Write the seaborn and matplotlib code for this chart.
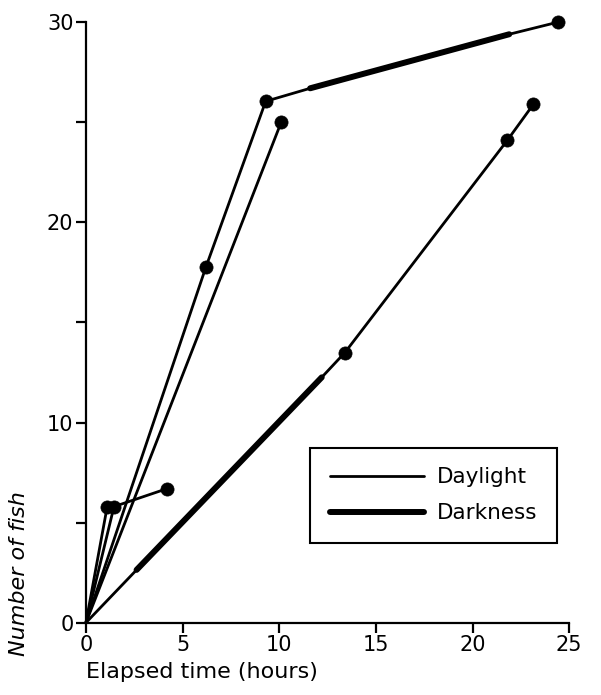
import seaborn as sns
import matplotlib.pyplot as plt
import pandas as pd
from matplotlib.lines import Line2D

# data: hours / number of fish, phase of each segment
s1_hours = [0, 6.2, 9.3, 11.6, 21.9, 24.4]
s1_fish = [0, 17.75, 26.05, 26.7, 29.4, 30.0]
s1_phase = ['Daylight', 'Daylight', 'Daylight', 'Darkness', 'Daylight']
s1_obs = [False, True, True, False, False, True]

s2_hours = [0, 10.1]
s2_fish = [0, 25.0]
s2_phase = ['Daylight']
s2_obs = [False, True]

s3_hours = [0, 2.62, 12.2, 13.4, 21.8, 23.15]
s3_fish = [0, 2.64, 12.26, 13.5, 24.1, 25.9]
s3_phase = ['Daylight', 'Darkness', 'Daylight', 'Daylight', 'Daylight']
s3_obs = [False, False, False, True, True, True]

s4_hours = [0, 1.1]
s4_fish = [0, 5.8]
s4_phase = ['Daylight']
s4_obs = [False, True]

s5_hours = [0, 1.45, 4.2]
s5_fish = [0, 5.8, 6.7]
s5_phase = ['Daylight', 'Daylight']
s5_obs = [False, True, True]

series = [
    (s1_hours, s1_fish, s1_phase, s1_obs),
    (s2_hours, s2_fish, s2_phase, s2_obs),
    (s3_hours, s3_fish, s3_phase, s3_obs),
    (s4_hours, s4_fish, s4_phase, s4_obs),
    (s5_hours, s5_fish, s5_phase, s5_obs),
]

x_ticks = [0, 5, 10, 15, 20, 25]
y_ticks = [0, 5, 10, 15, 20, 25, 30]
y_ticklabels = ['0', '', '10', '', '20', '', '30']

# long tables: one two-row piece per segment, plus the observed points
seg_rows = []
pt_rows = []
seg_id = 0
for hours, fish, phase, obs in series:
    for i in range(len(phase)):
        for j in (i, i + 1):
            seg_rows.append({'segment': seg_id, 'phase': phase[i], 'hours': hours[j], 'fish': fish[j]})
        seg_id += 1
    for h, f, o in zip(hours, fish, obs):
        if o:
            pt_rows.append({'hours': h, 'fish': f})
seg_df = pd.DataFrame(seg_rows)
pt_df = pd.DataFrame(pt_rows)

sns.set_style('ticks', {'axes.edgecolor': 'black', 'text.color': 'black',
                        'xtick.color': 'black', 'ytick.color': 'black',
                        'axes.labelcolor': 'black'})
plt.rcParams['font.family'] = ['DejaVu Sans']

fig = plt.figure(figsize=(6.01, 6.95), dpi=100)
ax = fig.add_axes([0.143, 0.104, 0.804, 0.864])

sns.lineplot(data=seg_df, x='hours', y='fish', units='segment', size='phase',
             sizes={'Daylight': 2.0, 'Darkness': 4.3}, color='black',
             estimator=None, sort=False, legend=False, ax=ax,
             solid_capstyle='round', clip_on=False)
sns.scatterplot(data=pt_df, x='hours', y='fish', color='black', s=90,
                edgecolor='black', linewidth=0.5, zorder=3, clip_on=False, ax=ax)

ax.set_xlim(0, 25)
ax.set_ylim(0, 30)
ax.set_xticks(x_ticks)
ax.set_xticklabels([str(t) for t in x_ticks])
ax.set_yticks(y_ticks)
ax.set_yticklabels(y_ticklabels)
sns.despine(ax=ax)
for sp in ('left', 'bottom'):
    ax.spines[sp].set_linewidth(1.6)
ax.tick_params(axis='both', direction='out', length=7, width=1.6, labelsize=15,
               pad=2, colors='black')

ax.set_xlabel('Elapsed time (hours)', fontsize=16, loc='left')
ax.xaxis.set_label_coords(0.0, -0.065)
ax.set_ylabel('Number of fish', fontsize=16, style='italic', loc='bottom')
ax.yaxis.set_label_coords(-0.118, -0.055)

handles = [Line2D([], [], color='black', lw=2.0),
           Line2D([], [], color='black', lw=4.3)]
leg = ax.legend(handles, ['Daylight', 'Darkness'], loc='lower left',
                bbox_to_anchor=(0.464, 0.133), borderaxespad=0, fontsize=15.5,
                handlelength=4.4, labelspacing=0.75, borderpad=0.9,
                handletextpad=0.6, fancybox=False, framealpha=1)
leg.get_frame().set_edgecolor('black')
leg.get_frame().set_linewidth(1.5)

fig.savefig('out.png', dpi=100)
